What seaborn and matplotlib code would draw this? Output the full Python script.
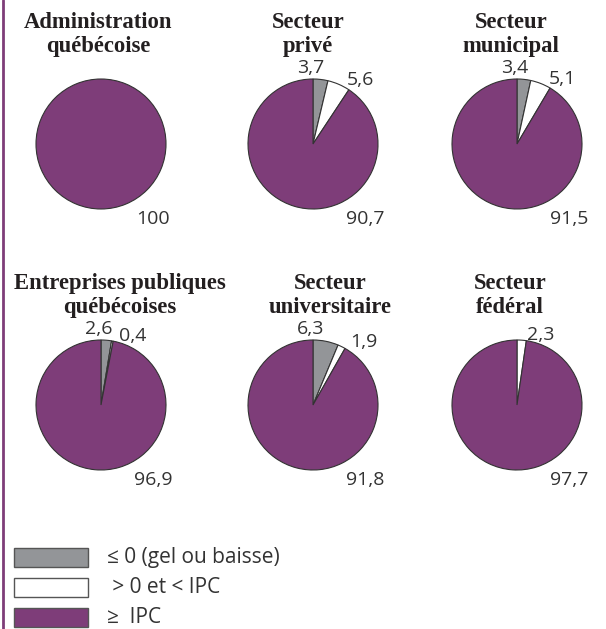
import math
import matplotlib
matplotlib.use("Agg")
import matplotlib.pyplot as plt
import seaborn as sns
from matplotlib.patches import Rectangle
from matplotlib.lines import Line2D

# Répartition des augmentations salariales par secteur (%)
titres = [
    ("Administration", "québécoise"),
    ("Secteur", "privé"),
    ("Secteur", "municipal"),
    ("Entreprises publiques", "québécoises"),
    ("Secteur", "universitaire"),
    ("Secteur", "fédéral"),
]
gel_ou_baisse = [0, 3.7, 3.4, 2.6, 6.3, 0]
sous_ipc = [0, 5.6, 5.1, 0.4, 1.9, 2.3]
ipc_ou_plus = [100, 90.7, 91.5, 96.9, 91.8, 97.7]
legende = ["≤ 0 (gel ou baisse)", " > 0 et < IPC", "≥  IPC"]

sns.set_theme(style="white")
couleurs = sns.color_palette(["#939598", "#ffffff", "#7e3d79"])
plt.rcParams["font.family"] = ["Open Sans", "DejaVu Sans"]

W, H = 606, 629
fig = plt.figure(figsize=(W / 100, H / 100), dpi=100)
fig.patch.set_facecolor("white")

# Mise en page (pixels)
R = 65
cols_x = [101, 313, 517]
rows_y = [144, 405]
titre_x = [98.5, 308, 511, 120, 330, 510]
texte = "#333333"
police_titre = dict(family=["Liberation Serif", "DejaVu Serif"], weight="bold",
                    size=16.3, color="#231f20")


def fmt(v):
    if float(v).is_integer() and v >= 100:
        return str(int(v))
    return f"{v:.1f}".replace(".", ",")


for i, (t1, t2) in enumerate(titres):
    cx = cols_x[i % 3]
    cy = rows_y[i // 3]
    ax = fig.add_axes([(cx - R) / W, 1 - (cy + R) / H, 2 * R / W, 2 * R / H])
    vals = [gel_ou_baisse[i], sous_ipc[i], ipc_ou_plus[i]]
    garde = [k for k, v in enumerate(vals) if v > 0]
    ax.pie([vals[k] for k in garde], colors=[couleurs[k] for k in garde],
           startangle=90, counterclock=False, radius=1,
           wedgeprops=dict(edgecolor="#333333", linewidth=0.8))
    ax.set_xlim(-1, 1)
    ax.set_ylim(-1, 1)
    ax.axis("off")

    tx = (titre_x[i] - cx) / R
    ax.text(tx, 1.78, t1, ha="center", va="baseline", clip_on=False, **police_titre)
    ax.text(tx, 1.415, t2, ha="center", va="baseline", clip_on=False, **police_titre)

    if gel_ou_baisse[i] > 0:
        ax.text(-0.04, 1.17, fmt(gel_ou_baisse[i]), ha="center", va="center",
                fontsize=14, color=texte, clip_on=False)
    if sous_ipc[i] > 0:
        theta = math.radians((gel_ou_baisse[i] + sous_ipc[i] / 2) / 100 * 360)
        ax.text(1.15 * math.sin(theta) + 0.07, 1.12 * math.cos(theta) - 0.04,
                fmt(sous_ipc[i]), ha="left", va="center",
                fontsize=14, color=texte, clip_on=False)
    ax.text(0.8, -1.16, fmt(ipc_ou_plus[i]), ha="center", va="center",
            fontsize=14, color=texte, clip_on=False)

# Légende
for k, lab in enumerate(legende):
    y_top = 548 + 30 * k
    fig.add_artist(Rectangle((14 / W, 1 - (y_top + 19) / H), 74 / W, 19 / H,
                             transform=fig.transFigure, facecolor=couleurs[k],
                             edgecolor="#555555", linewidth=1.0))
    fig.text(107 / W, 1 - (y_top + 9.5) / H, lab, ha="left", va="center",
             fontsize=15, color=texte)

# Filet vertical à gauche
fig.add_artist(Line2D([3 / W, 3 / W], [0, 1], transform=fig.transFigure,
                      color="#7e3d79", linewidth=2))

fig.savefig("out.png", dpi=100)
